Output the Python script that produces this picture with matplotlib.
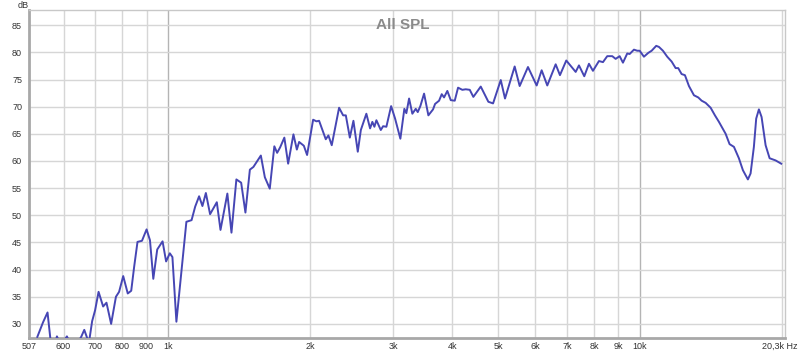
import matplotlib
matplotlib.use("Agg")
import matplotlib.pyplot as plt
from matplotlib.transforms import ScaledTranslation

plt.rcParams['font.family'] = ['Liberation Sans', 'DejaVu Sans']

# SPL response (Hz, dB)
freq_hz = [528, 543, 555, 564, 573, 581, 593, 610, 623, 642, 654, 664, 674, 680,
           690, 700, 712, 728, 740, 757, 775, 787, 803, 821, 835, 847, 861, 880,
           900, 915, 930, 948, 973, 990, 1008, 1021, 1041, 1064, 1093, 1121, 1141,
           1163, 1182, 1202, 1227, 1268, 1291, 1335, 1362, 1395, 1428, 1458, 1490,
           1516, 1572, 1603, 1642, 1679, 1702, 1727, 1763, 1796, 1843, 1874, 1895,
           1939, 1970, 2029, 2062, 2089, 2123, 2158, 2186, 2222, 2303, 2349, 2380,
           2427, 2470, 2523, 2561, 2631, 2679, 2709, 2736, 2763, 2823, 2855, 2901,
           2969, 3027, 3106, 3167, 3198, 3241, 3293, 3348, 3381, 3424, 3487, 3561,
           3643, 3679, 3752, 3801, 3844, 3906, 3972, 4050, 4116, 4203, 4273, 4358,
           4435, 4598, 4772, 4883, 5070, 5176, 5426, 5560, 5790, 6041, 6190, 6362,
           6628, 6768, 6980, 7308, 7426, 7621, 7797, 7951, 8187, 8349, 8525, 8736,
           8882, 9057, 9205, 9400, 9511, 9712, 9870, 9986, 10197, 10414, 10588,
           10828, 10973, 11188, 11425, 11675, 11903, 12055, 12257, 12456, 12702,
           13016, 13291, 13514, 13781, 14121, 14420, 14705, 15194, 15488, 15821,
           16209, 16530, 16937, 17161, 17440, 17638, 17871, 18107, 18466, 18831,
           19390, 19929]
spl_db = [27.6, 30.3, 32.1, 26.5, 25.5, 27.7, 26.0, 27.7, 26.0, 26.5, 27.6, 28.9, 27.3, 26.8,
          30.5, 32.5, 35.9, 33.2, 33.9, 30.0, 35.0, 35.9, 38.8, 35.6, 36.1, 40.5, 45.1, 45.3,
          47.4, 45.4, 38.3, 43.7, 45.2, 41.5, 43.0, 42.3, 30.4, 38.7, 48.8, 49.1, 51.6,
          53.5, 51.7, 54.1, 50.2, 52.4, 47.3, 54.0, 46.8, 56.6, 56.0, 50.5, 58.4,
          58.9, 61.0, 57.0, 54.9, 62.7, 61.5, 62.5, 64.3, 59.5, 64.9, 62.1, 63.5,
          62.8, 61.1, 67.6, 67.3, 67.4, 65.7, 64.0, 64.7, 62.9, 69.8, 68.4, 68.4,
          64.3, 67.4, 61.7, 65.7, 68.7, 66.0, 67.2, 66.3, 67.5, 65.7, 66.4, 66.3,
          70.1, 67.8, 64.1, 69.6, 68.8, 71.5, 68.7, 69.6, 69.0, 70.1, 72.4, 68.4,
          69.5, 70.5, 71.1, 72.3, 71.7, 72.9, 71.2, 71.1, 73.5, 73.1, 73.2, 73.1,
          71.8, 73.7, 70.9, 70.6, 74.9, 71.5, 77.4, 73.8, 77.3, 73.9, 76.7, 73.9,
          77.8, 75.8, 78.5, 76.4, 77.6, 75.6, 77.9, 76.6, 78.4, 78.2, 79.3, 79.3,
          78.8, 79.3, 78.1, 79.8, 79.7, 80.5, 80.3, 80.3, 79.2, 79.9, 80.3,
          81.2, 81.0, 80.3, 79.2, 78.3, 77.1, 77.1, 76.0, 75.8, 73.8,
          72.1, 71.7, 71.1, 70.7, 69.8, 68.4, 67.2, 65.0, 63.1, 62.6,
          60.5, 58.3, 56.6, 57.7, 62.6, 67.8, 69.5, 68.1, 62.9, 60.5,
          60.1, 59.5]

x_ticks = [507, 600, 700, 800, 900, 1000, 2000, 3000, 4000, 5000, 6000, 7000,
           8000, 9000, 10000, 20300]
x_labels = ['507', '600', '700', '800', '900', '1k', '2k', '3k', '4k', '5k', '6k',
            '7k', '8k', '9k', '10k', '20,3k Hz']
y_ticks = [30, 35, 40, 45, 50, 55, 60, 65, 70, 75, 80, 85]

fig = plt.figure(figsize=(8, 3.52), dpi=100)
ax = fig.add_axes([29/800, 14/352, 756/800, 328/352])

ax.set_xscale('log')
ax.set_xlim(507, 20300)
ax.set_ylim(27.4, 87.8)

# grid
for f in x_ticks[1:-1] + [20000]:
    c = '#b4b4b4' if f in (1000, 10000) else '#d6d6d6'
    ax.axvline(f, color=c, lw=1.0, zorder=1)
for y in y_ticks:
    ax.axhline(y, color='#d6d6d6', lw=1.0, zorder=1)

ax.plot(freq_hz, spl_db, color='#4646b4', lw=1.4, zorder=3,
        solid_joinstyle='round')

ax.set_xticks(x_ticks)
ax.set_xticklabels(x_labels)
ax.minorticks_off()
ax.set_yticks(y_ticks)
ax.tick_params(length=0, labelsize=6.5, labelcolor='#333333')
ax.tick_params(axis='y', pad=5)
ax.tick_params(axis='x', pad=3)

# last label sits left of the frame edge so it stays on the canvas
last = ax.get_xticklabels()[-1]
last.set_horizontalalignment('right')
last.set_transform(last.get_transform() + ScaledTranslation(13/100, 0, fig.dpi_scale_trans))

for s in ('left', 'bottom'):
    ax.spines[s].set_color('#a8a8a8')
    ax.spines[s].set_linewidth(2)
for s in ('top', 'right'):
    ax.spines[s].set_color('#c8c8c8')
    ax.spines[s].set_linewidth(1)

ax.text(0.495, 0.975, 'All SPL', transform=ax.transAxes, ha='center', va='top',
        fontsize=11, fontweight='bold', color='#8a8a8a', zorder=4)
fig.text(23/800, 1 - 5/352, 'dB', ha='center', va='center', fontsize=6.5,
         color='#333333')

fig.savefig('out.png', dpi=100)
